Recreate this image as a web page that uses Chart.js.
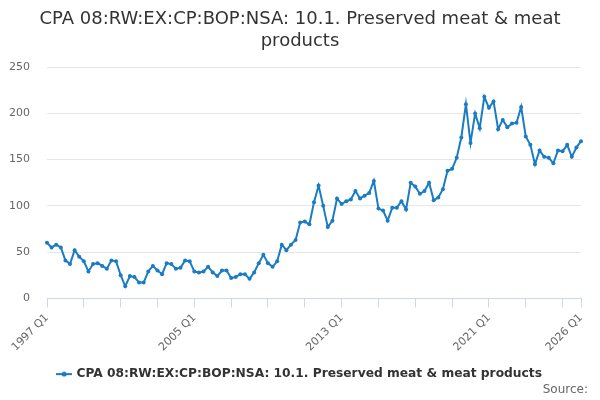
<!DOCTYPE html>
<html lang="en">
<head>
  <meta charset="UTF-8">
  <title>CPA 08:RW:EX:CP:BOP:NSA: 10.1. Preserved meat &amp; meat products</title>
  <script src="https://cdn.jsdelivr.net/npm/chart.js@4.4.1/dist/chart.umd.min.js"></script>
  <style>
    html, body { margin: 0; padding: 0; background: #fff; }
    #wrap { width: 600px; height: 400px; }
  </style>
</head>
<body>
  <div id="wrap"><canvas id="myChart"></canvas></div>

  <script>
  // quarters 1997 Q1 .. 2026 Q1
  var startYear = 1997;
  var endYear = 2026;
  var quarters = [];
  for (var y = startYear; y <= endYear; y++) {
    for (var q = 1; q <= 4; q++) {
      if (y === endYear && q > 1) break;
      quarters.push(y + ' Q' + q);
    }
  }

  // values, one row per year
  var values = [
    60, 55, 58, 55,      // 1997
    41, 37, 52, 45,      // 1998
    40, 29, 37, 38,      // 1999
    35, 32, 41, 40,      // 2000
    25, 13, 24, 23,      // 2001
    17, 17, 29, 35,      // 2002
    30, 26, 38, 37,      // 2003
    32, 33, 41, 40,      // 2004
    29, 28, 29, 34,      // 2005
    28, 24, 30, 30,      // 2006
    22, 23, 26, 26,      // 2007
    21, 28, 38, 47,      // 2008
    38, 34, 40, 58,      // 2009
    52, 58, 63, 82,      // 2010
    83, 80, 104, 122,    // 2011
    100, 77, 84, 108,    // 2012
    102, 105, 107, 116,  // 2013
    108, 111, 114, 127,  // 2014
    97, 95, 84, 98,      // 2015
    98, 105, 96, 125,    // 2016
    121, 113, 116, 125,  // 2017
    106, 109, 118, 138,  // 2018
    140, 152, 174, 210,  // 2019
    168, 200, 184, 218,  // 2020
    206, 213, 183, 193,  // 2021
    185, 189, 190, 207,  // 2022
    175, 166, 145, 160,  // 2023
    153, 152, 146, 160,  // 2024
    159, 166, 153, 163,  // 2025
    170                  // 2026
  ];

  var yTicks = [0, 50, 100, 150, 200, 250];
  var titleLines = ['CPA 08:RW:EX:CP:BOP:NSA: 10.1. Preserved meat & meat', 'products'];
  var seriesName = 'CPA 08:RW:EX:CP:BOP:NSA: 10.1. Preserved meat & meat products';
  var sourceText = 'Source:';

  var lineColor = '#1a7cc3';
  var axisColor = '#ccd6eb';
  var lastIdx = quarters.length - 1;

  // legend symbol: short line with a dot
  var sym = document.createElement('canvas');
  sym.width = 16; sym.height = 8;
  var sc = sym.getContext('2d');
  sc.strokeStyle = lineColor; sc.lineWidth = 2;
  sc.beginPath(); sc.moveTo(0, 4); sc.lineTo(16, 4); sc.stroke();
  sc.fillStyle = lineColor;
  sc.beginPath(); sc.arc(8, 4, 2.5, 0, Math.PI * 2); sc.fill();

  Chart.defaults.font.family = '"DejaVu Sans", sans-serif';

  var ctx = document.getElementById('myChart');
  var myChart = new Chart(ctx, {
    type: 'line',
    data: {
      labels: quarters,
      datasets: [{
        label: seriesName,
        data: values,
        borderColor: lineColor,
        backgroundColor: lineColor,
        borderWidth: 2,
        pointRadius: 2,
        pointHoverRadius: 4,
        pointBackgroundColor: lineColor,
        pointBorderWidth: 0,
        tension: 0,
        fill: false
      }]
    },
    options: {
      responsive: true,
      maintainAspectRatio: false,
      animation: false,
      layout: { padding: { left: 0, right: 0, top: 4, bottom: 0 } },
      plugins: {
        title: {
          display: true,
          text: titleLines,
          color: '#333333',
          font: { size: 18, weight: 'normal' },
          padding: { top: 5, bottom: 15 }
        },
        legend: {
          position: 'bottom',
          labels: {
            usePointStyle: true,
            pointStyle: sym,
            color: '#333333',
            font: { size: 12.25, weight: 'bold' },
            padding: 10
          }
        },
        subtitle: {
          display: true,
          text: sourceText + '\u2002\u2002',
          position: 'bottom',
          align: 'end',
          color: '#666666',
          font: { size: 12, weight: 'normal' },
          padding: { top: -7.4, bottom: 2.8 }
        },
        tooltip: { enabled: true }
      },
      scales: {
        x: {
          offset: false,
          border: { display: true, color: axisColor, width: 1 },
          grid: {
            drawOnChartArea: false,
            drawTicks: true,
            tickLength: 9,
            color: function (c) {
              return (c.index % 8 === 0 || c.index === lastIdx) ? axisColor : 'rgba(0,0,0,0)';
            }
          },
          ticks: {
            autoSkip: false,
            maxRotation: 45,
            minRotation: 45,
            color: '#666666',
            font: { size: 11 },
            padding: 4,
            callback: function (val, index) {
              if (index % 32 === 0 || index === lastIdx) return this.getLabelForValue(val);
              return '';
            }
          },
          afterFit: function (s) {
            s.paddingLeft = 0;
            s.paddingRight = 19;
          }
        },
        y: {
          min: yTicks[0],
          max: yTicks[yTicks.length - 1],
          border: { display: false },
          grid: { color: '#e6e6e6', drawTicks: false },
          afterBuildTicks: function (axis) {
            axis.ticks = yTicks.map(function (v) { return { value: v }; });
          },
          ticks: {
            color: '#666666',
            font: { size: 11 },
            padding: 17
          },
          afterFit: function (s) {
            s.width = 47;
          }
        }
      }
    }
  });
  </script>
</body>
</html>
